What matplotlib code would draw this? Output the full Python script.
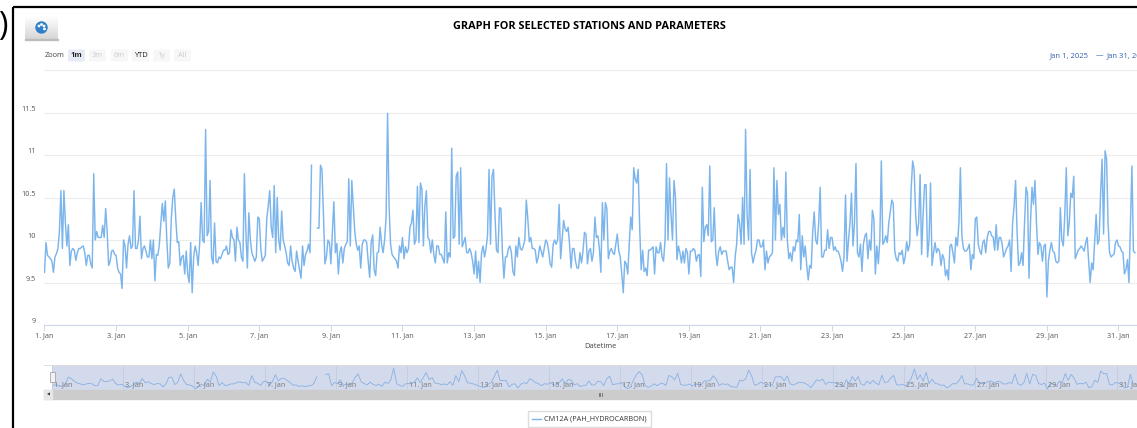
import numpy as np
import matplotlib
matplotlib.use('Agg')
import matplotlib.pyplot as plt
from matplotlib.patches import Rectangle, FancyBboxPatch, Circle

W, H = 1137, 428
LINE = '#7cb5ec'
FONT = ['Open Sans', 'DejaVu Sans']
NAV_GROUP = 2

nan = np.nan
# hourly readings, one row per day
cm12a = [
  9.62,9.97,9.82,9.80,9.78,9.75,9.62,9.80,9.84,9.90,10.1,10.58,9.9,10.58,10.2,9.93,10.18,9.7,9.87,9.90,9.88,9.76,9.85,9.9,
  9.9,9.92,9.93,9.85,9.7,9.82,9.82,9.72,9.67,10.78,10.0,10.1,10.03,10.03,10.03,10.17,10.03,10.37,10.1,9.7,9.75,9.87,9.88,9.83,
  9.82,9.67,9.62,9.6,9.43,10.0,9.93,9.67,9.95,10.05,9.9,9.93,10.58,9.9,9.9,10.0,10.28,9.78,9.9,9.93,9.87,9.8,9.8,10.0,
  9.78,10.0,9.52,9.83,9.82,9.95,10.2,10.43,10.22,10.46,10.0,9.67,9.73,10.25,10.5,10.6,10.25,9.97,9.98,9.7,9.8,9.82,9.6,9.87,
  9.6,9.5,9.97,9.38,9.8,9.93,9.85,9.7,9.95,10.44,10.0,9.97,11.3,10.05,10.1,10.7,9.8,9.72,10.2,9.75,9.73,9.8,9.78,9.83,
  9.88,9.88,9.93,9.83,9.85,10.12,10.03,10.0,9.75,10.15,10.0,9.97,9.8,9.75,10.78,10.1,9.67,10.32,10.0,9.85,9.8,9.75,9.8,10.27,
  10.25,9.9,9.75,9.78,9.82,10.25,10.4,10.58,10.15,10.03,10.64,9.85,10.5,10.0,9.88,10.34,10.0,9.93,9.85,9.73,9.7,9.93,9.75,9.67,
  9.63,9.87,9.75,9.65,9.55,9.93,9.7,9.83,9.87,9.95,9.85,10.88,nan,nan,nan,10.14,10.14,10.88,10.83,10.3,9.72,9.8,10.0,9.97,
  9.72,10.1,10.45,9.85,9.96,9.6,9.85,9.92,9.73,9.9,9.95,9.98,10.72,9.93,10.7,10.4,10.1,9.95,9.88,9.93,9.67,9.95,10.0,10.0,
  9.97,9.75,9.56,9.97,10.06,9.65,9.58,9.85,9.86,10.15,9.95,9.85,10.0,10.27,11.49,10.4,9.95,9.83,9.8,9.78,9.75,9.67,9.93,9.85,
  10.03,9.78,9.92,9.85,9.9,10.15,10.2,10.35,9.95,10.0,10.63,9.97,10.67,10.6,9.93,10.4,10.58,10.03,10.0,9.85,10.0,9.83,9.73,9.93,
  9.93,9.83,9.83,9.78,9.73,10.33,9.73,9.85,9.8,11.08,10.02,10.04,10.75,10.8,9.95,10.85,9.92,9.97,10.03,9.85,9.85,9.9,9.85,9.75,
  9.6,9.87,9.55,9.75,9.5,9.85,9.93,9.8,9.9,10.05,10.83,9.95,10.75,10.83,10.3,9.88,9.85,10.38,10.37,9.85,9.55,9.8,9.8,9.9,
  9.93,9.85,9.63,9.58,9.93,9.8,10.03,9.9,9.88,9.93,10.0,10.47,10.25,9.98,10.03,9.9,9.9,9.88,9.73,9.8,9.93,9.87,9.8,9.9,
  10.0,9.97,9.87,9.72,9.68,9.95,10.0,9.95,10.0,10.42,9.78,10.0,10.23,10.13,10.1,10.15,9.95,9.67,9.9,9.9,9.75,9.67,9.67,9.85,
  9.73,9.87,10.09,10.07,9.72,9.87,9.9,9.75,9.85,10.27,10.03,10.05,9.9,9.62,10.44,10.0,10.44,10.37,9.78,9.87,9.9,9.85,9.83,9.95,
  10.07,9.87,9.8,9.6,9.38,9.75,9.72,9.6,9.95,10.27,10.12,10.85,10.72,10.67,10.83,10.15,9.65,9.88,9.63,9.67,9.58,9.88,9.88,9.9,
  9.92,9.6,9.92,9.85,9.85,9.97,9.8,9.75,10.0,10.9,10.0,10.73,10.3,10.0,10.7,10.5,9.77,9.93,9.85,9.73,9.87,9.73,9.9,9.85,
  9.6,9.87,9.87,9.9,9.88,9.75,9.82,9.83,9.57,10.62,9.98,10.15,10.18,10.05,10.87,9.98,10.0,10.38,9.85,9.7,9.87,9.92,9.83,9.87,
  9.87,9.87,9.75,9.65,9.68,9.68,9.5,9.8,9.95,10.3,10.2,9.95,10.5,9.95,11.3,10.3,10.0,10.83,9.85,9.73,9.82,9.88,10.0,10.0,
  9.92,9.92,10.0,9.65,9.87,9.73,9.8,9.82,9.85,10.85,10.0,10.7,10.3,10.42,10.0,10.15,10.03,10.8,10.0,9.78,9.85,9.75,9.92,9.87,
  10.0,9.98,10.3,9.65,10.05,9.8,9.93,9.7,9.53,9.7,9.67,10.1,10.33,10.0,9.95,10.2,10.62,9.8,9.8,9.88,9.88,10.12,9.9,10.03,
  10.03,9.88,9.92,9.87,9.87,9.82,9.75,9.63,9.8,10.53,9.75,10.0,10.2,10.55,9.93,10.2,10.9,9.85,9.8,9.95,9.63,9.95,10.05,10.08,
  9.78,10.0,9.88,10.35,10.25,9.6,9.93,9.72,10.0,10.93,9.95,9.98,10.05,9.97,10.2,10.33,10.47,10.43,9.87,9.78,9.75,9.85,9.83,9.88,
  9.72,9.8,9.98,9.87,9.95,10.6,10.93,10.83,10.3,10.05,10.2,10.77,9.83,10.3,10.65,10.65,9.8,10.0,10.67,9.7,9.85,9.97,9.85,9.9,
  9.87,9.7,9.83,9.78,9.58,9.65,9.53,9.93,9.95,9.85,9.73,10.03,9.93,10.2,10.85,10.05,9.9,9.87,9.87,9.9,9.95,9.65,9.83,9.78,
  10.25,10.27,9.95,9.87,9.83,9.97,10.0,9.85,10.03,10.1,10.1,10.05,10.03,9.88,10.18,9.88,10.03,10.03,9.95,9.8,9.85,9.9,9.93,10.0,
  9.63,10.2,10.4,10.7,10.1,9.7,9.73,9.85,9.7,10.2,10.62,10.55,9.55,10.2,10.62,10.42,10.7,10.2,9.83,9.97,9.93,9.75,9.93,9.95,
  9.33,9.75,9.88,9.97,9.87,9.85,9.75,9.73,9.75,10.38,10.0,9.93,10.3,10.85,10.05,10.2,10.55,10.5,10.75,9.78,9.83,9.88,9.9,9.93,
  9.9,9.87,9.97,10.03,9.75,9.5,9.73,9.65,9.97,10.3,9.95,10.0,10.55,10.95,10.07,11.05,10.95,10.2,9.85,9.8,9.82,9.83,9.97,10.0,
  9.93,9.92,9.87,9.85,9.6,9.65,9.77,9.5,10.2,10.87,9.87,9.85,
]
tick_days = [1, 3, 5, 7, 9, 11, 13, 15, 17, 19, 21, 23, 25, 27, 29, 31]
y_ticks = [9, 9.5, 10, 10.5, 11, 11.5, 12]
y_labels = ['9', '9.5', '10', '10.5', '11', '11.5', '']
zoom_labels = ['1m', '3m', '6m', 'YTD', '1y', 'All']
series_name = 'CM12A (PAH_HYDROCARBON)'

values = np.array(cm12a, dtype=float)
hours = np.arange(len(values))
tick_hours = [(d-1)*24 for d in tick_days]
tick_labels = [f'{d}. Jan' for d in tick_days]

# the navigator shows the series averaged into blocks
nav_hours = hours[::NAV_GROUP] + NAV_GROUP/2
nav_values = values.reshape(-1, NAV_GROUP).mean(axis=1)

def px_axes(fig, x0, y0, x1, y1, **kw):
  # axes from pixel corners, y counted from the top of the image
  return fig.add_axes([x0/W, 1-y1/H, (x1-x0)/W, (y1-y0)/H], **kw)

fig = plt.figure(figsize=(W/100, H/100), dpi=100, facecolor='white')

# main chart
ax = px_axes(fig, 44.5, 70, W, 325)
ax.plot(hours, values, color=LINE, lw=1.05, solid_joinstyle='round')
ax.set_xlim(0, (W-44.5)/(35.8/24))
ax.set_ylim(9, 12)
ax.set_yticks(y_ticks)
ax.set_yticklabels([])
# y labels sit a little above their grid lines
for v, lab in zip(y_ticks, y_labels):
  ax.annotate(lab, (0, v), xycoords=('axes fraction', 'data'), xytext=(-6, 2.2), textcoords='offset points',
              fontsize=5.2, color='#555555', family=FONT, ha='right', va='center', annotation_clip=False)
ax.set_xticks(tick_hours)
ax.set_xticklabels(tick_labels, fontsize=5.2, color='#555555', family=FONT)
ax.tick_params(axis='y', length=0)
ax.tick_params(axis='x', length=4, width=0.7, color='#ccd6eb', pad=1.5)
ax.grid(axis='y', color='#ececec', lw=0.8)
ax.set_axisbelow(True)
for s in ('top', 'right', 'left'):
  ax.spines[s].set_visible(False)
ax.spines['bottom'].set_color('#ccd6eb')
ax.spines['bottom'].set_linewidth(0.8)

# navigator
nav = px_axes(fig, 52, 365, W, 390)
nav.set_facecolor('#d2daec')
nav.plot(nav_hours, nav_values, color='#8ab0e2', lw=0.6)
nav.set_xlim(0, (W-52)/(71/48))
lo, hi = np.nanmin(nav_values), np.nanmax(nav_values)
per_px = (hi-lo)/21
nav.set_ylim(lo-per_px, hi+3*per_px)
nav.set_yticks([])
nav.set_xticks(tick_hours)
nav.set_xticklabels([])
nav.tick_params(axis='x', length=0)
nav.grid(axis='x', color='#c3cce0', lw=0.6)
nav.set_axisbelow(True)
for s in nav.spines.values():
  s.set_visible(False)
for h, lab in zip(tick_hours, tick_labels):
  nav.annotate(lab, (h, 0), xycoords=('data', 'axes fraction'), xytext=(1.5, 4),
               textcoords='offset points', fontsize=5.2, color='#777777', family=FONT, va='center')

# page furniture drawn in pixel coordinates
deco = fig.add_axes([0, 0, 1, 1], zorder=5)
deco.set_xlim(0, W)
deco.set_ylim(H, 0)
deco.axis('off')
deco.patch.set_alpha(0)

deco.plot([13, 13], [7, H], color='black', lw=1.6, solid_capstyle='butt')
deco.plot([13, W], [7, 7], color='black', lw=1.6, solid_capstyle='butt')
deco.text(8, 26, ')', fontsize=23, ha='right', va='center', color='black', family=FONT)

deco.text(589.5, 26, 'GRAPH FOR SELECTED STATIONS AND PARAMETERS', fontsize=7.8, fontweight='bold',
          ha='center', va='center', color='black', family=FONT)

# export button
deco.imshow(np.linspace(1, 0.84, 24).reshape(-1, 1), cmap='gray', vmin=0, vmax=1, aspect='auto',
            extent=(25, 58, 39, 16), zorder=1)
deco.set_xlim(0, W)
deco.set_ylim(H, 0)
deco.add_patch(Rectangle((25, 38.5), 33, 1, color='#bdbdbd', zorder=2))
deco.add_patch(Circle((41.5, 27.5), 5.5, color='#2f80c8', zorder=3))
for x, y in ((39, 26), (41.5, 24.5), (44, 26), (44.5, 29)):
  deco.add_patch(Circle((x, y), 0.7, color='white', zorder=4))

# range selector
deco.text(45, 55.5, 'Zoom', fontsize=5.4, color='#444444', va='center', family=FONT)
btn_x = [67, 88, 110, 131, 152, 173]
for i, (x, lab) in enumerate(zip(btn_x, zoom_labels)):
  active = lab == '1m'
  enabled = lab == 'YTD'
  face = '#e6ebf5' if active else '#f7f7f7'
  col = '#222222' if active or enabled else '#cccccc'
  deco.add_patch(FancyBboxPatch((x+1, 49.5), 17, 12, boxstyle='round,pad=0,rounding_size=1.5', fc=face, ec='none'))
  deco.text(x+9.5, 55.5, lab, fontsize=5.4, color=col, ha='center', va='center', family=FONT,
            fontweight='bold' if active else 'normal')

deco.text(1050, 55.5, 'Jan 1, 2025', fontsize=5.5, color='#335cad', va='center', family=FONT)
deco.text(1096, 55.5, '\u2014', fontsize=5.4, color='#335cad', va='center', family=FONT)
deco.text(1107, 55.5, 'Jan 31, 2025', fontsize=5.5, color='#335cad', va='center', family=FONT, clip_on=True)

deco.text(600, 347, 'Datetime', fontsize=5.4, color='#444444', ha='center', va='center', family=FONT)

# navigator outline, handle and scrollbar
deco.plot([44, W], [364.5, 364.5], color='#dcdcdc', lw=0.7)
deco.add_patch(Rectangle((44, 390), W-44, 9, color='#cccccc'))
deco.add_patch(Rectangle((44, 390), 8, 9, color='#e6e6e6'))
deco.text(48, 394.5, '\u25c0', fontsize=2.8, ha='center', va='center', color='#333333')
deco.add_patch(Rectangle((50, 372), 4.5, 10, fc='#f2f2f2', ec='#999999', lw=0.5))
for x in (598.5, 600, 601.5):
  deco.plot([x, x], [392.5, 396], color='#555555', lw=0.5)

# legend
deco.add_patch(Rectangle((527.5, 410.5), 123, 16.5, fc='white', ec='#dddddd', lw=1.0))
deco.plot([532, 541], [419, 419], color=LINE, lw=1.0)
deco.text(544, 419, series_name, fontsize=5.2, color='#333333', va='center', family=FONT)

fig.savefig('out.png', dpi=100)
